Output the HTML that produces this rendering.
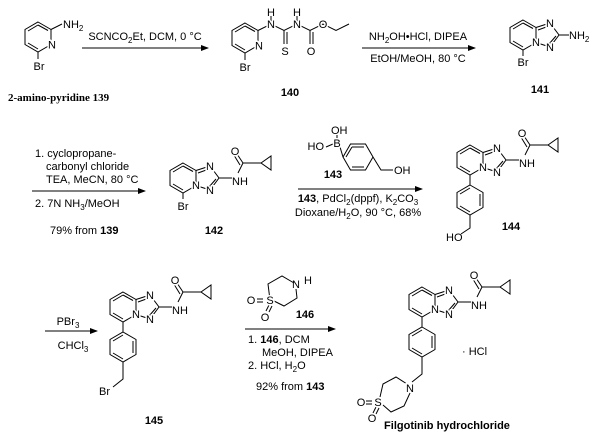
<!DOCTYPE html>
<html><head><meta charset="utf-8"><style>
html,body{margin:0;padding:0;background:#fff;}
svg{display:block;}
text{font-family:"Liberation Sans",sans-serif;font-size:11px;fill:#000;}
.l{stroke:#fff;stroke-width:3px;paint-order:stroke;}
.b{font-weight:bold;}
</style></head><body>
<svg width="600" height="447" viewBox="0 0 600 447" xmlns="http://www.w3.org/2000/svg">
<defs>
<marker id="ah" markerWidth="8" markerHeight="6" refX="7" refY="3" orient="auto"><path d="M0,0 L8,3 L0,6 z" fill="#000"/></marker>
<g id="pyr" fill="none" stroke="#000" stroke-width="1">
<polygon points="0,-15 13,-7.5 13,7.5 0,15 -13,7.5 -13,-7.5"/>
<line x1="-10" y1="-6" x2="0" y2="-12"/>
<line x1="-10" y1="6" x2="0" y2="12"/>
</g>
<g id="core" fill="none" stroke="#000" stroke-width="1">
<use href="#pyr"/>
<line x1="0" y1="-12" x2="10" y2="-6.5"/>
<polyline points="13,-7.5 27,-12 36,0 27,12 13,7.5"/>
<line x1="15" y1="-5" x2="26" y2="-9"/>
<line x1="33" y1="1" x2="26" y2="9"/>
</g>
<g id="amide" fill="none" stroke="#000" stroke-width="1">
<line x1="36" y1="0" x2="49" y2="0"/>
<polyline points="55,-5 60,-15 78,-15"/>
<line x1="60" y1="-15" x2="54" y2="-24"/>
<line x1="57" y1="-13" x2="51.5" y2="-22"/>
<polygon points="78,-15 88,-22 88,-8"/>
</g>
<g id="ph" fill="none" stroke="#000" stroke-width="1">
<polygon points="0,-15 13,-7.5 13,7.5 0,15 -13,7.5 -13,-7.5"/>
<line x1="10" y1="-6" x2="10" y2="6"/>
<line x1="-10" y1="-6" x2="0" y2="-12"/>
<line x1="-10" y1="6" x2="0" y2="12"/>
</g>
</defs>

<!-- 139 -->
<g transform="translate(38,37)">
<use href="#pyr"/>
<line x1="0" y1="-12" x2="10" y2="-6.5" stroke="#000"/>
<line x1="13" y1="-7.5" x2="24" y2="-13" stroke="#000"/>
<line x1="0" y1="15" x2="0" y2="22" stroke="#000"/>
<text x="14" y="11.5" text-anchor="middle" class="l">N</text>
<text x="25" y="-9">NH<tspan font-size="8" dy="3">2</tspan></text>
<text x="1" y="33" text-anchor="middle">Br</text>
</g>
<text x="8" y="101" style="font-family:'Liberation Serif',serif;font-weight:bold;font-size:11px">2-amino-pyridine 139</text>

<line x1="82" y1="48" x2="208" y2="48" stroke="#000" marker-end="url(#ah)"/>
<text x="145" y="40" text-anchor="middle">SCNCO<tspan font-size="8" dy="3">2</tspan><tspan dy="-3">Et, DCM, 0 °C</tspan></text>

<!-- 140 -->
<g transform="translate(245,38)" stroke="#000" fill="none">
<use href="#pyr"/>
<line x1="0" y1="-12" x2="10" y2="-6.5"/>
<polyline points="13,-7.5 26,-14 39,-7.5 52,-14 65,-7.5 78,-14 91,-7.5 104,-14"/>
<line x1="39" y1="-7.5" x2="39" y2="6"/><line x1="42" y1="-6" x2="42" y2="6"/>
<line x1="65" y1="-7.5" x2="65" y2="6"/><line x1="68" y1="-6" x2="68" y2="6"/>
<line x1="26" y1="-14" x2="26" y2="-22"/><line x1="52" y1="-14" x2="52" y2="-22"/>
<line x1="0" y1="15" x2="0" y2="22"/>
</g>
<g transform="translate(245,38)">
<text x="14" y="11.5" text-anchor="middle" class="l">N</text>
<text x="26" y="-10" text-anchor="middle" class="l">N</text>
<text x="26" y="-22" text-anchor="middle" class="l">H</text>
<text x="52" y="-10" text-anchor="middle" class="l">N</text>
<text x="52" y="-22" text-anchor="middle" class="l">H</text>
<text x="40" y="17" text-anchor="middle" class="l">S</text>
<text x="66" y="17" text-anchor="middle" class="l">O</text>
<text x="78" y="-10" text-anchor="middle" class="l">O</text>
<text x="0" y="33" text-anchor="middle">Br</text>
</g>
<text x="290" y="96" text-anchor="middle" class="b">140</text>

<line x1="362" y1="48" x2="475" y2="48" stroke="#000" marker-end="url(#ah)"/>
<text x="418" y="40" text-anchor="middle">NH<tspan font-size="8" dy="3">2</tspan><tspan dy="-3">OH•HCl, DIPEA</tspan></text>
<text x="418" y="62" text-anchor="middle">EtOH/MeOH, 80 °C</text>

<!-- 141 -->
<g transform="translate(523,35)">
<use href="#core"/>
<line x1="36" y1="0" x2="46" y2="0" stroke="#000"/>
<line x1="0" y1="15" x2="0" y2="21" stroke="#000"/>
<text x="13" y="11" text-anchor="middle" class="l">N</text>
<text x="27" y="-8" text-anchor="middle" class="l">N</text>
<text x="27" y="16" text-anchor="middle" class="l">N</text>
<text x="46" y="4">NH<tspan font-size="8" dy="3">2</tspan></text>
<text x="0" y="31" text-anchor="middle">Br</text>
</g>
<text x="540" y="93" text-anchor="middle" class="b">141</text>

<!-- step 3 -->
<text x="35" y="157">1. cyclopropane-</text>
<text x="46" y="170">carbonyl chloride</text>
<text x="46" y="183">TEA, MeCN, 80 °C</text>
<line x1="32" y1="191" x2="145" y2="191" stroke="#000" marker-end="url(#ah)"/>
<text x="35" y="207">2. 7N NH<tspan font-size="8" dy="3">3</tspan><tspan dy="-3">/MeOH</tspan></text>
<text x="50" y="234">79% from <tspan class="b">139</tspan></text>

<!-- 142 -->
<g transform="translate(183,178)">
<use href="#core"/><use href="#amide"/>
<line x1="0" y1="15" x2="0" y2="21" stroke="#000"/>
<text x="13" y="11" text-anchor="middle" class="l">N</text>
<text x="27" y="-8" text-anchor="middle" class="l">N</text>
<text x="27" y="16" text-anchor="middle" class="l">N</text>
<text x="49" y="7">NH</text>
<text x="52" y="-23" text-anchor="middle" class="l">O</text>
<text x="0" y="32" text-anchor="middle">Br</text>
</g>
<text x="214" y="234" text-anchor="middle" class="b">142</text>

<!-- 143 -->
<g stroke="#000" fill="none">
<polygon points="343,157 350.5,144 365.5,144 373,157 365.5,170 350.5,170"/>
<line x1="352" y1="147" x2="364" y2="147"/>
<line x1="352" y1="167" x2="364" y2="167"/>
<line x1="370" y1="157" x2="364" y2="147" stroke="none"/>
<line x1="343" y1="157" x2="340" y2="147"/>
<line x1="337" y1="140" x2="337" y2="135"/>
<line x1="333" y1="144" x2="326" y2="147"/>
<polyline points="373,157 381,170 393,170"/>
</g>
<line x1="346" y1="157" x2="352" y2="147" stroke="#000"/>
<text x="331" y="134">OH</text>
<text x="337" y="147" text-anchor="middle" class="l">B</text>
<text x="324" y="150" text-anchor="end">HO</text>
<text x="394" y="174">OH</text>
<text x="333" y="178" text-anchor="middle" class="b">143</text>
<line x1="298" y1="189" x2="422" y2="189" stroke="#000" marker-end="url(#ah)"/>
<text x="358" y="202" text-anchor="middle"><tspan class="b">143</tspan>, PdCl<tspan font-size="8" dy="3">2</tspan><tspan dy="-3">(dppf), K</tspan><tspan font-size="8" dy="3">2</tspan><tspan dy="-3">CO</tspan><tspan font-size="8" dy="3">3</tspan></text>
<text x="358" y="216" text-anchor="middle">Dioxane/H<tspan font-size="8" dy="3">2</tspan><tspan dy="-3">O, 90 °C, 68%</tspan></text>

<!-- 144 -->
<g transform="translate(470,160)">
<use href="#core"/><use href="#amide"/>
<line x1="0" y1="15" x2="0" y2="25" stroke="#000"/>
<use href="#ph" transform="translate(0,40)"/>
<polyline points="0,55 0,68 -9,74" stroke="#000" fill="none"/>
<text x="13" y="11" text-anchor="middle" class="l">N</text>
<text x="27" y="-8" text-anchor="middle" class="l">N</text>
<text x="27" y="16" text-anchor="middle" class="l">N</text>
<text x="49" y="7">NH</text>
<text x="52" y="-23" text-anchor="middle" class="l">O</text>
<text x="-24" y="81">HO</text>
</g>
<text x="511" y="230" text-anchor="middle" class="b">144</text>

<!-- step 5 -->
<line x1="45" y1="331" x2="97" y2="331" stroke="#000" marker-end="url(#ah)"/>
<text x="68" y="325" text-anchor="middle">PBr<tspan font-size="8" dy="3">3</tspan></text>
<text x="73" y="349" text-anchor="middle">CHCl<tspan font-size="8" dy="3">3</tspan></text>

<!-- 145 -->
<g transform="translate(123,307)">
<use href="#core"/><use href="#amide"/>
<line x1="0" y1="15" x2="0" y2="25" stroke="#000"/>
<use href="#ph" transform="translate(0,40)"/>
<polyline points="0,55 0,72 -10,80" stroke="#000" fill="none"/>
<text x="13" y="11" text-anchor="middle" class="l">N</text>
<text x="27" y="-8" text-anchor="middle" class="l">N</text>
<text x="27" y="16" text-anchor="middle" class="l">N</text>
<text x="49" y="7">NH</text>
<text x="52" y="-23" text-anchor="middle" class="l">O</text>
<text x="-24" y="88">Br</text>
</g>
<text x="154" y="424" text-anchor="middle" class="b">145</text>

<!-- 146 -->
<g stroke="#000" fill="none">
<polyline points="270,300 268,284 282,276 294,283"/>
<polyline points="296,289 297,298 284,306 272,300"/>
<line x1="263" y1="299" x2="257" y2="299"/><line x1="263" y1="302" x2="257" y2="302"/>
<line x1="269" y1="305" x2="266" y2="311"/><line x1="272" y1="306" x2="269" y2="312"/>
</g>
<text x="270" y="304" text-anchor="middle" class="l">S</text>
<text x="251" y="304" text-anchor="middle">O</text>
<text x="265" y="321" text-anchor="middle">O</text>
<text x="296" y="288" text-anchor="middle">N</text>
<text x="304" y="284">H</text>
<text x="305" y="318" text-anchor="middle" class="b">146</text>
<line x1="245" y1="329" x2="335" y2="329" stroke="#000" marker-end="url(#ah)"/>
<text x="248" y="343">1. <tspan class="b">146</tspan>, DCM</text>
<text x="262" y="356">MeOH, DIPEA</text>
<text x="248" y="369">2. HCl, H<tspan font-size="8" dy="3">2</tspan><tspan dy="-3">O</tspan></text>
<text x="256" y="390">92% from <tspan class="b">143</tspan></text>

<!-- Filgotinib -->
<g transform="translate(422,302)">
<use href="#core"/><use href="#amide"/>
<line x1="0" y1="15" x2="0" y2="25" stroke="#000"/>
<use href="#ph" transform="translate(0,40)"/>
<polyline points="0,55 0,72 -10,80" stroke="#000" fill="none"/>
<text x="13" y="11" text-anchor="middle" class="l">N</text>
<text x="27" y="-8" text-anchor="middle" class="l">N</text>
<text x="27" y="16" text-anchor="middle" class="l">N</text>
<text x="49" y="7">NH</text>
<text x="52" y="-23" text-anchor="middle" class="l">O</text>
</g>
<g stroke="#000" fill="none">
<polyline points="407,384 396,377 383,384 380,397"/>
<polyline points="383,405 391,412 404,406 410,393"/>
<line x1="372" y1="401" x2="366" y2="401"/><line x1="372" y1="404" x2="366" y2="404"/>
<line x1="376" y1="407" x2="373" y2="413"/><line x1="379" y1="408" x2="376" y2="414"/>
</g>
<text x="410" y="392" text-anchor="middle" class="l">N</text>
<text x="378" y="406" text-anchor="middle" class="l">S</text>
<text x="361" y="406" text-anchor="middle">O</text>
<text x="372" y="422" text-anchor="middle">O</text>
<text x="462" y="355">· HCl</text>
<text x="447" y="429" text-anchor="middle" class="b">Filgotinib hydrochloride</text>
</svg>
</body></html>
